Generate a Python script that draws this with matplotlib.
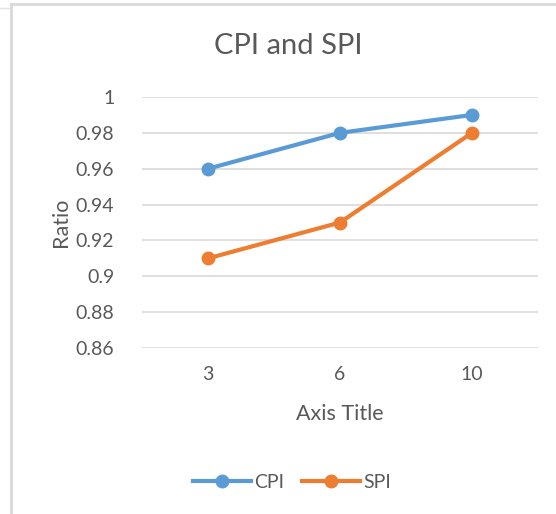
import matplotlib.pyplot as plt
from matplotlib.lines import Line2D

categories = ['3', '6', '10']
cpi = [0.96, 0.98, 0.99]
spi = [0.91, 0.93, 0.98]
yticks = [0.86, 0.88, 0.90, 0.92, 0.94, 0.96, 0.98, 1.0]
ytick_labels = ['0.86', '0.88', '0.9', '0.92', '0.94', '0.96', '0.98', '1']

blue = '#5B9BD5'
orange = '#ED7D31'
text_col = '#595959'
grid_col = '#D9D9D9'

plt.rcParams['font.family'] = ['Lato', 'DejaVu Sans']

W, H = 556, 514
fig = plt.figure(figsize=(W / 100, H / 100), dpi=100)

# plot area in pixel coordinates of the picture
left, right, top, bottom = 142, 538, 97, 348
ax = fig.add_axes([left / W, 1 - bottom / H, (right - left) / W, (bottom - top) / H])

x = range(len(categories))
ax.plot(x, cpi, color=blue, lw=3, marker='o', ms=9, label='CPI', solid_capstyle='round')
ax.plot(x, spi, color=orange, lw=3, marker='o', ms=9, label='SPI', solid_capstyle='round')

ax.set_xlim(-0.5, 2.5)
ax.set_ylim(0.86, 1.0)
ax.set_yticks(yticks)
ax.set_yticklabels(ytick_labels)
ax.set_xticks(list(x))
ax.set_xticklabels(categories)
ax.grid(axis='y', color=grid_col, lw=1.2)
ax.set_axisbelow(True)
for s in ax.spines.values():
    s.set_visible(False)
ax.tick_params(length=0, colors=text_col, labelsize=14)
ax.tick_params(axis='y', pad=20)
ax.tick_params(axis='x', pad=13)

fig.text(288 / W, 1 - 46 / H, 'CPI and SPI', ha='center', va='center', fontsize=21, color=text_col)
fig.text(340 / W, 1 - 414 / H, 'Axis Title', ha='center', va='center', fontsize=15.5, color=text_col)
fig.text(61 / W, 1 - 222 / H, 'Ratio', ha='center', va='center', rotation=90, fontsize=15.5, color=text_col)

handles = [Line2D([], [], color=blue, lw=3, marker='o', ms=9),
           Line2D([], [], color=orange, lw=3, marker='o', ms=9)]
fig.legend(handles, ['CPI', 'SPI'], loc='center', bbox_to_anchor=(292 / W, 1 - 482 / H),
           ncol=2, frameon=False, fontsize=14, labelcolor=text_col,
           handlelength=3.0, handletextpad=0.15, columnspacing=0.9)

# chart border lines from the screenshot
fig.add_artist(Line2D([11 / W, 11 / W], [0, 1 - 4 / H], color='#D9D9D9', lw=2))
fig.add_artist(Line2D([11 / W, 1], [1 - 4 / H, 1 - 4 / H], color='#D9D9D9', lw=2))
fig.add_artist(Line2D([0, 9 / W], [1 - 8 / H, 1 - 8 / H], color='#E3E3E3', lw=1))

fig.savefig('out.png', dpi=100)
